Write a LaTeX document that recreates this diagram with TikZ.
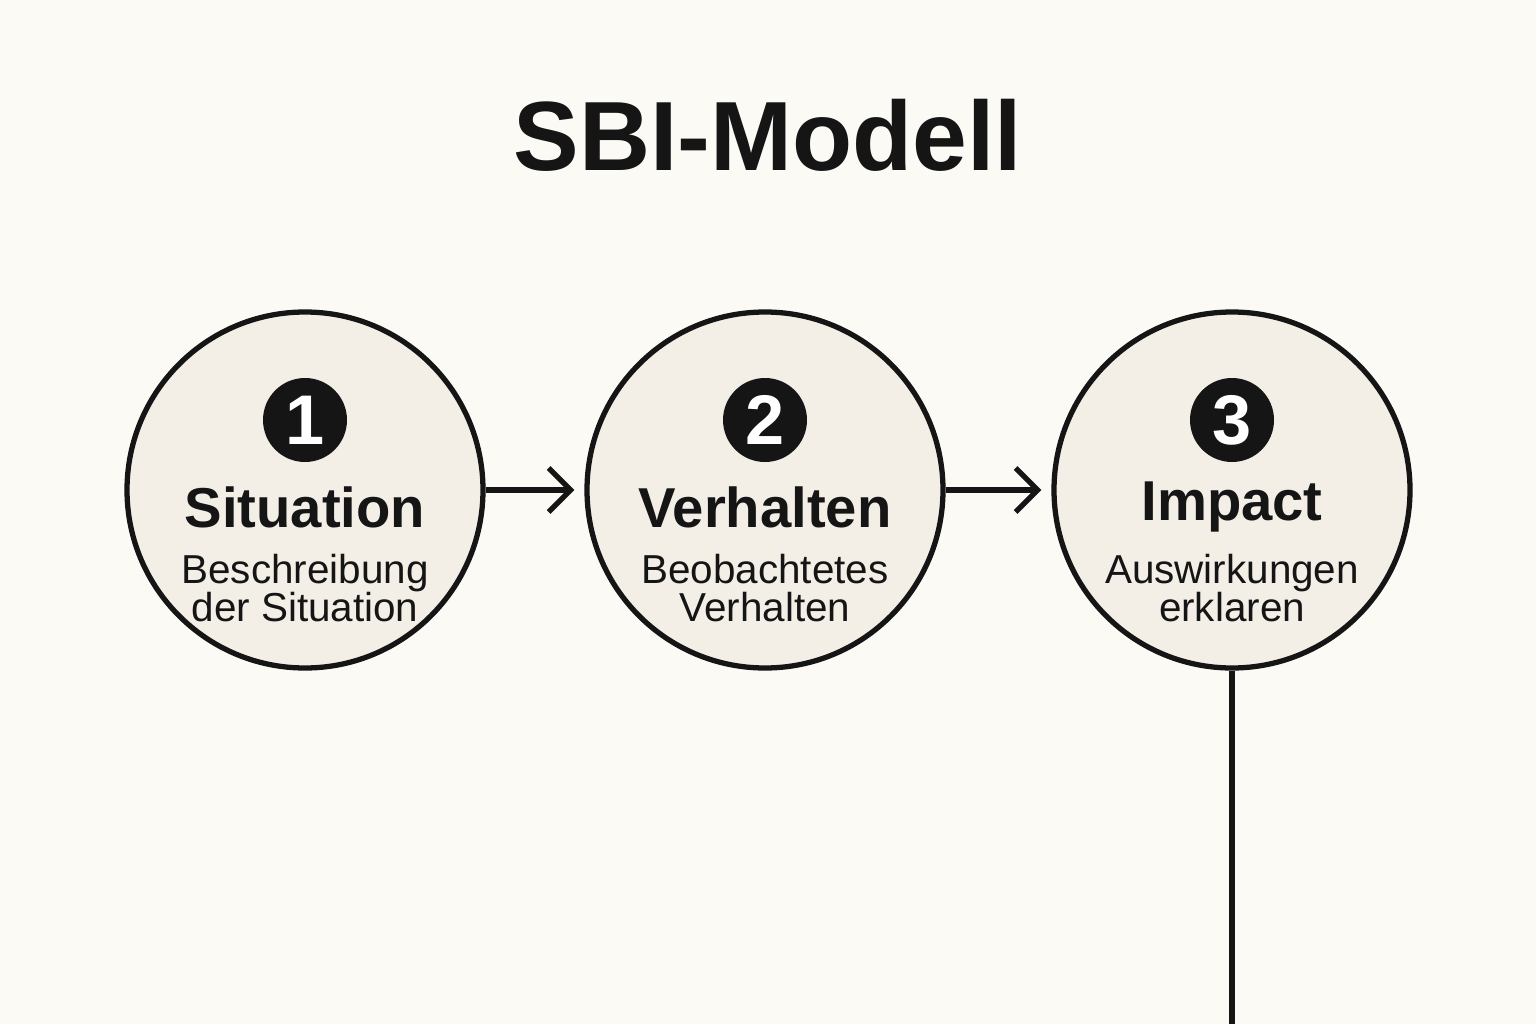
\documentclass[tikz,border=0pt]{standalone}
\usepackage{fontspec}
\setmainfont{Liberation Sans}
\usetikzlibrary{positioning,arrows.meta}
\definecolor{bgpaper}{HTML}{FCFAF5}
\definecolor{discfill}{HTML}{F3EFE7}
\definecolor{inkdark}{HTML}{151515}
\tikzset{
	step disc/.style={circle, draw=inkdark, line width=1.5pt, fill=discfill, minimum size=3.56cm, inner sep=0pt},
	badge/.style={circle, fill=inkdark, text=white, minimum size=0.84cm, inner sep=0pt, font=\fontsize{20}{20}\selectfont\bfseries},
	heading/.style={font=\fontsize{16}{16}\selectfont\bfseries, text=inkdark},
	caption/.style={font=\fontsize{11.5}{12}\selectfont, text=inkdark, align=center},
	flow/.style={line width=1.5pt, draw=inkdark, -{Straight Barb[length=2.2mm, width=4.4mm, line width=1.5pt]}}
}
\begin{document}
\begin{tikzpicture}
	\fill[bgpaper] (0,0) rectangle (15.36,10.24);
	\useasboundingbox (0,0) rectangle (15.36,10.24);

	\node[font=\fontsize{28}{28}\selectfont\bfseries, text=inkdark] (title) at (7.68,8.89) {SBI-Modell};

	% the three steps
	\foreach \n/\x/\head/\lineA/\lineB in {1/3.05/Situation/Beschreibung/der Situation,
	                                     2/7.65/Verhalten/Beobachtetes/Verhalten,
	                                     3/12.32/Impact/Auswirkungen/erklaren}
	{
		\node[step disc] (disc\n) at (\x,5.34) {};
		\node[badge] (badge\n) at (\x,6.04) {\n};
		\node[heading] (head\n) at (\x,5.17) {\head};
		\node[caption] (text\n) at (\x,4.36) {\lineA\\[-1pt]\lineB};
	}

	\draw[flow] (disc1.east) -- ([xshift=-0.1cm]disc2.west);
	\draw[flow] (disc2.east) -- ([xshift=-0.1cm]disc3.west);

	\coordinate (tail) at (12.32,0);
	\draw[line width=1.5pt, inkdark] (disc3.south) -- (tail);
\end{tikzpicture}
\end{document}
